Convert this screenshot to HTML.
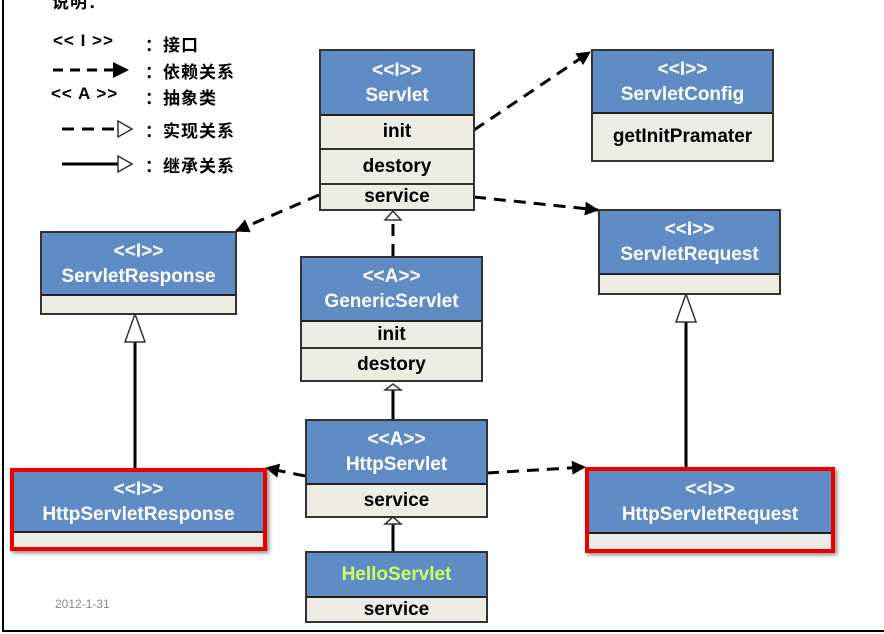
<!DOCTYPE html>
<html><head><meta charset="utf-8"><style>
body{margin:0;width:884px;height:634px;background:#fff;overflow:hidden;position:relative;font-family:"Liberation Sans","Noto Sans CJK SC",sans-serif}
.b{position:absolute;box-sizing:border-box;border:2px solid #333;}
.h{background:#5f8cc4;color:#fff;font-weight:bold;text-align:center;font-size:19px;line-height:25px;border-bottom:2px solid #222;box-sizing:border-box;display:flex;flex-direction:column;justify-content:center}
.r{background:#eeebe3;color:#000;font-weight:bold;text-align:center;font-size:19px;border-bottom:2px solid #333;box-sizing:border-box;display:flex;align-items:center;justify-content:center}
.r:last-child{border-bottom:none}
.t{position:absolute;font-size:17px;font-weight:bold;color:#000;letter-spacing:1px}
</style></head><body>
<div style="position:absolute;left:2px;top:0;width:2px;height:632px;background:#000"></div>
<div style="position:absolute;left:2px;top:630px;width:882px;height:2px;background:#000"></div>
<div class="t" style="left:52px;top:-12px">说明：</div>
<div class="t" style="left:53px;top:31px">&lt;&lt; I &gt;&gt;</div><div class="t" style="left:145px;top:31px">：接口</div>
<div class="t" style="left:145px;top:58px">：依赖关系</div>
<div class="t" style="left:51px;top:84px">&lt;&lt; A &gt;&gt;</div><div class="t" style="left:145px;top:84px">：抽象类</div>
<div class="t" style="left:145px;top:117px">：实现关系</div>
<div class="t" style="left:145px;top:152px">：继承关系</div>

<svg width="884" height="634" style="position:absolute;left:0;top:0">
<defs>
<marker id="f" markerWidth="14" markerHeight="14" refX="13" refY="7" orient="auto" markerUnits="userSpaceOnUse" viewBox="0 0 14 14"><path d="M0,0L14,7L0,14z" fill="#000"/></marker>
</defs>
<g stroke="#000" stroke-width="3" fill="none">
<line x1="53" y1="70" x2="115" y2="70" stroke-dasharray="10,7"/>
<path d="M113,62L129,70L113,78z" fill="#000" stroke="none"/>
<line x1="62" y1="129" x2="118" y2="129" stroke-dasharray="12,8"/>
<line x1="62" y1="164" x2="118" y2="164"/>
<line x1="474" y1="130" x2="590" y2="52" stroke-dasharray="12,8" marker-end="url(#f)"/>
<line x1="319" y1="195" x2="236" y2="231" stroke-dasharray="12,8" marker-end="url(#f)"/>
<line x1="474" y1="197" x2="598" y2="210" stroke-dasharray="12,8" marker-end="url(#f)"/>
<line x1="393" y1="256" x2="393" y2="220" stroke-dasharray="12,8"/>
<line x1="393" y1="419" x2="393" y2="390"/>
<line x1="393" y1="551" x2="393" y2="524"/>
<line x1="135" y1="468" x2="135" y2="342"/>
<line x1="686" y1="467" x2="686" y2="322"/>
<line x1="305" y1="476" x2="266" y2="468" stroke-dasharray="12,8" marker-end="url(#f)"/>
<line x1="487" y1="473" x2="585" y2="467" stroke-dasharray="12,8" marker-end="url(#f)"/>
</g>
<g stroke="#333" stroke-width="1.5" fill="#fff">
<path d="M118,121L132,129L118,137z"/><path d="M118,156L132,164L118,172z"/>
<path d="M393,211L385,220L401,220z"/>
<path d="M393,384L385,390L401,390z"/>
<path d="M393,517L385,524L401,524z"/>
<path d="M135,314L125,342L145,342z"/>
<path d="M686,294L676,322L696,322z"/>
</g>
</svg>

<div class="b" style="left:319px;top:49px;width:156px;height:162px;display:flex;flex-direction:column">
<div class="h" style="height:65px"><div>&lt;&lt;I&gt;&gt;</div><div>Servlet</div></div>
<div class="r" style="height:34px">init</div><div class="r" style="height:35px">destory</div><div class="r" style="flex:1">service</div></div>

<div class="b" style="left:591px;top:49px;width:183px;height:113px;display:flex;flex-direction:column">
<div class="h" style="height:63px"><div>&lt;&lt;I&gt;&gt;</div><div>ServletConfig</div></div>
<div class="r" style="flex:1">getInitPramater</div></div>

<div class="b" style="left:598px;top:209px;width:183px;height:86px;display:flex;flex-direction:column">
<div class="h" style="height:64px"><div>&lt;&lt;I&gt;&gt;</div><div>ServletRequest</div></div>
<div class="r" style="flex:1"></div></div>

<div class="b" style="left:40px;top:231px;width:197px;height:84px;display:flex;flex-direction:column">
<div class="h" style="height:63px"><div>&lt;&lt;I&gt;&gt;</div><div>ServletResponse</div></div>
<div class="r" style="flex:1"></div></div>

<div class="b" style="left:300px;top:256px;width:183px;height:126px;display:flex;flex-direction:column">
<div class="h" style="height:64px"><div>&lt;&lt;A&gt;&gt;</div><div>GenericServlet</div></div>
<div class="r" style="height:27px">init</div><div class="r" style="flex:1">destory</div></div>

<div class="b" style="left:305px;top:419px;width:183px;height:99px;display:flex;flex-direction:column">
<div class="h" style="height:64px"><div>&lt;&lt;A&gt;&gt;</div><div>HttpServlet</div></div>
<div class="r" style="flex:1">service</div></div>

<div class="b" style="left:305px;top:551px;width:183px;height:72px;display:flex;flex-direction:column">
<div class="h" style="height:45px;color:#ccff66">HelloServlet</div>
<div class="r" style="flex:1">service</div></div>

<div class="b" style="left:10px;top:468px;width:257px;height:83px;border:4px solid #e00;display:flex;flex-direction:column;box-shadow:2px 2px 4px #888">
<div class="h" style="height:61px"><div>&lt;&lt;I&gt;&gt;</div><div>HttpServletResponse</div></div>
<div class="r" style="flex:1"></div></div>

<div class="b" style="left:585px;top:467px;width:250px;height:86px;border:4px solid #e00;display:flex;flex-direction:column;box-shadow:2px 2px 4px #888">
<div class="h" style="height:63px"><div>&lt;&lt;I&gt;&gt;</div><div>HttpServletRequest</div></div>
<div class="r" style="flex:1"></div></div>

<div style="position:absolute;left:55px;top:597px;font-size:12px;color:#888">2012-1-31</div>
</body></html>
